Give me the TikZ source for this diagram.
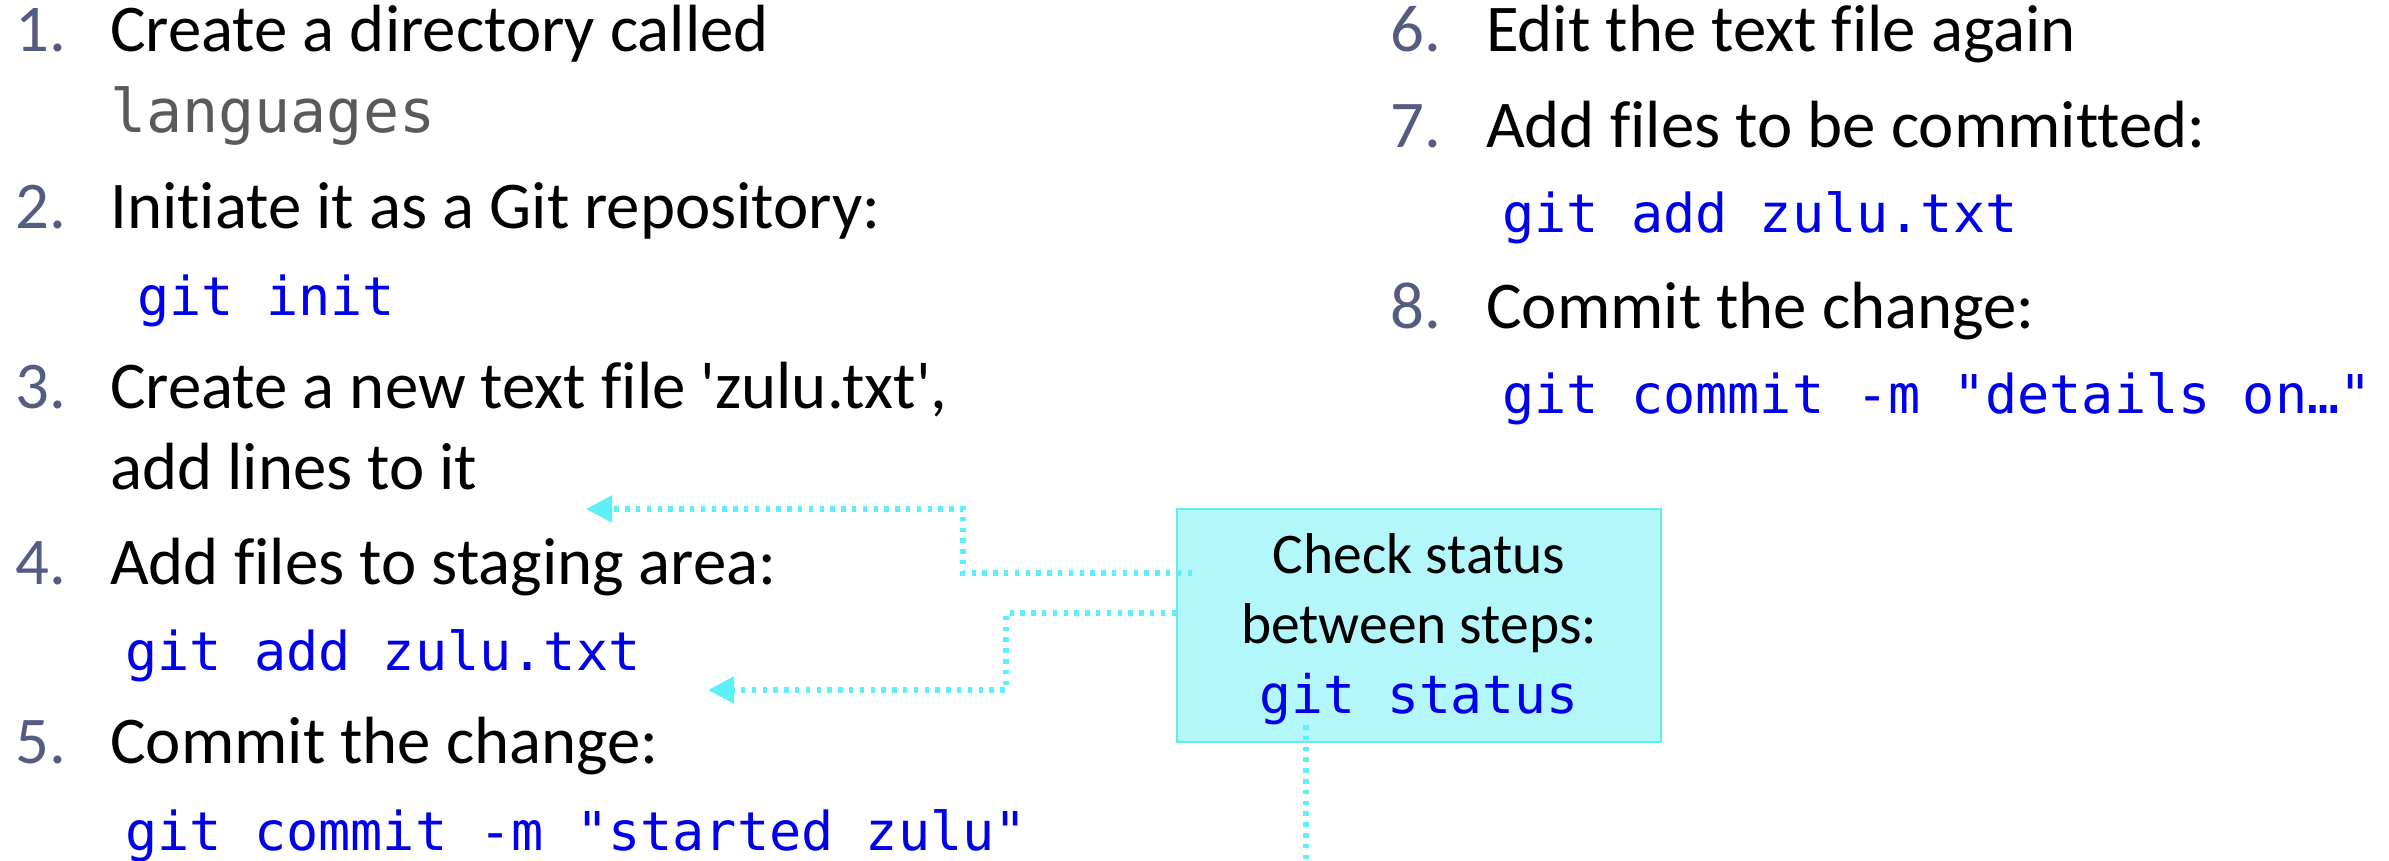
\documentclass[tikz,border=0pt]{standalone}
\usepackage{fontspec}
\setmainfont{Carlito}[Ligatures={TeXOff,CommonOff}]
\newfontfamily\codefont{DejaVu Sans Mono}
\usetikzlibrary{arrows.meta}
\definecolor{numcol}{RGB}{85,92,130}
\definecolor{codeblue}{RGB}{0,0,235}
\definecolor{graycode}{RGB}{90,90,90}
\definecolor{conncol}{RGB}{94,240,249}
\definecolor{boxfill}{RGB}{179,247,250}
\definecolor{boxborder}{RGB}{100,236,243}
\tikzset{
  num/.style={anchor=base west, inner sep=0pt, text=numcol, font=\fontsize{66.8}{80}\selectfont},
  txt/.style={anchor=base west, inner sep=0pt, font=\fontsize{66.8}{80}\selectfont},
  code/.style={anchor=base west, inner sep=0pt, text=codeblue, font=\codefont\fontsize{53.5}{64}\selectfont},
  graycodestyle/.style={anchor=base west, inner sep=0pt, text=graycode, font=\codefont\fontsize{60}{72}\selectfont},
  boxtxt/.style={anchor=base, inner sep=0pt, font=\fontsize{57.5}{69}\selectfont},
  boxcode/.style={anchor=base, inner sep=0pt, text=codeblue, font=\codefont\fontsize{53}{64}\selectfont},
  conn/.style={draw=conncol, line width=5.5pt, dash pattern=on 4.5pt off 6.3pt},
  tipend/.style={-{Triangle[length=26pt,width=26pt,fill=conncol,color=conncol]}},
  notebox/.style={draw=boxborder, fill=boxfill, line width=2pt, minimum width=484pt, minimum height=233pt, inner sep=0pt}
}
\begin{document}
\begin{tikzpicture}[x=1pt,y=-1pt]
\useasboundingbox (0,0) rectangle (2389,861);
% left column
\node[num] (n1) at (15,52) {1.};
\node[txt] (t1) at (110,52) {Create a directory called};
\node[graycodestyle] (c1) at (110,133) {languages};
\node[num] (n2) at (15,229) {2.};
\node[txt] (t2) at (110,229) {Initiate it as a Git repository:};
\node[code] (c2) at (137,315) {git init};
\node[num] (n3) at (15,408) {3.};
\node[txt] (t3) at (110,408) {Create a new text file 'zulu.txt',};
\node[txt] (t3b) at (110,489) {add lines to it};
\node[num] (n4) at (15,584) {4.};
\node[txt] (t4) at (110,584) {Add files to staging area:};
\node[code] (c4) at (125,670) {git add zulu.txt};
\node[num] (n5) at (15,763) {5.};
\node[txt] (t5) at (110,763) {Commit the change:};
\node[code] (c5) at (125,850) {git commit -m "started zulu"};
% right column
\node[num] (n6) at (1390,52) {6.};
\node[txt] (t6) at (1486,52) {Edit the text file again};
\node[num] (n7) at (1390,148) {7.};
\node[txt] (t7) at (1486,148) {Add files to be committed:};
\node[code] (c7) at (1502,233) {git add zulu.txt};
\node[num] (n8) at (1390,328) {8.};
\node[txt] (t8) at (1486,328) {Commit the change:};
\node[code] (c8) at (1502,413) {git commit -m "details on…"};
% status box
\node[notebox] (box) at (1419,625.5) {};
\node[boxtxt] (b1) at (1419,573) {Check status};
\node[boxtxt] (b2) at (1419,643) {between steps:};
\node[boxcode] (b3) at (1419,713) {git status};
% connectors
\coordinate (tipA) at (586,509);
\coordinate (tipB) at (708,690);
\coordinate (bot) at (1306,861);
\draw[conn,tipend] ([shift={(16,-52.5)}]box.west) -- (963,573) -- (963,509) -- (tipA);
\draw[conn,tipend] ([shift={(0,-12.5)}]box.west) -- (1006,613) -- (1006,690) -- (tipB);
\draw[conn] ([shift={(-113,-18)}]box.south) -- (bot);
\end{tikzpicture}
\end{document}
